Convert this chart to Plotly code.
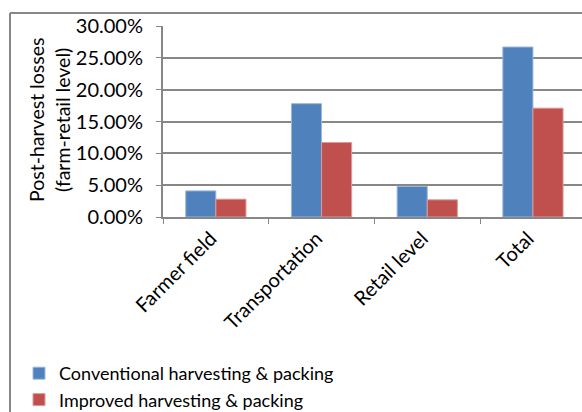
import plotly.graph_objects as go

categories = ["Farmer field", "Transportation", "Retail level", "Total"]
conventional = [4.1, 17.8, 4.8, 26.7]
improved = [2.8, 11.7, 2.7, 17.1]
series_names = ["Conventional harvesting & packing", "Improved harvesting & packing"]
y_ticks = [0, 5, 10, 15, 20, 25, 30]
y_tick_labels = [f"{v:.2f}%" for v in y_ticks]
y_title_lines = ["Post-harvest losses", "(farm-retail level)"]

W, H = 582, 412
L, R, T, B = 163, 0, 26, 195
FONT = "Lato, 'Open Sans', sans-serif"
GRID = "#878787"

pw = W - L - R
ph = H - T - B

def px_x(x):
    return (x - L) / pw

def px_y(y):
    return (H - B - y) / ph

fig = go.Figure()
fig.add_bar(x=categories, y=conventional, name=series_names[0],
            marker=dict(color="#4F81BD", line=dict(color="#9DB7DC", width=1)))
fig.add_bar(x=categories, y=improved, name=series_names[1],
            marker=dict(color="#C0504D", line=dict(color="#DE9A98", width=1)))

fig.update_layout(
    width=W, height=H,
    margin=dict(l=L, r=R, t=T, b=B, pad=0, autoexpand=False),
    paper_bgcolor="white", plot_bgcolor="white",
    font=dict(family=FONT, size=18, color="black"),
    barmode="group", bargap=0.43, bargroupgap=0,
    showlegend=True,
    legend=dict(xref="container", yref="container",
                x=19 / W, y=1 - 355 / H, xanchor="left", yanchor="top",
                font=dict(size=18), tracegroupgap=0, itemwidth=30,
                bgcolor="rgba(0,0,0,0)"),
)

fig.update_xaxes(
    range=[-0.5, -0.5 + pw / 105.7], automargin=False,
    tickangle=-45, tickson="boundaries", ticks="outside", ticklen=5,
    tickcolor=GRID, showline=True, linecolor=GRID, linewidth=2,
    showgrid=False, tickfont=dict(size=20), ticklabelshift=-5,
)
fig.update_yaxes(
    range=[0, 30], tickvals=y_ticks, ticktext=y_tick_labels, automargin=False,
    ticks="outside", ticklen=5, tickcolor=GRID,
    showline=True, linecolor=GRID, linewidth=2,
    showgrid=True, gridcolor=GRID, gridwidth=2, zeroline=False,
    ticklabelstandoff=9, tickfont=dict(size=20),
)

# Two-line vertical axis title
for line_text, cx in zip(y_title_lines, [36, 62]):
    fig.add_annotation(text=line_text, textangle=-90, showarrow=False,
                       xref="paper", yref="paper", x=px_x(cx), y=px_y(120),
                       xanchor="center", yanchor="middle",
                       font=dict(size=19.5))

# Chart-area frame: left and top edges
fig.add_shape(type="line", xref="paper", yref="paper",
              x0=px_x(10), x1=px_x(10), y0=px_y(13), y1=px_y(H + 5),
              line=dict(color=GRID, width=2))
fig.add_shape(type="line", xref="paper", yref="paper",
              x0=px_x(10), x1=px_x(W + 5), y0=px_y(13), y1=px_y(13),
              line=dict(color=GRID, width=2))

fig.write_html("out.html")
